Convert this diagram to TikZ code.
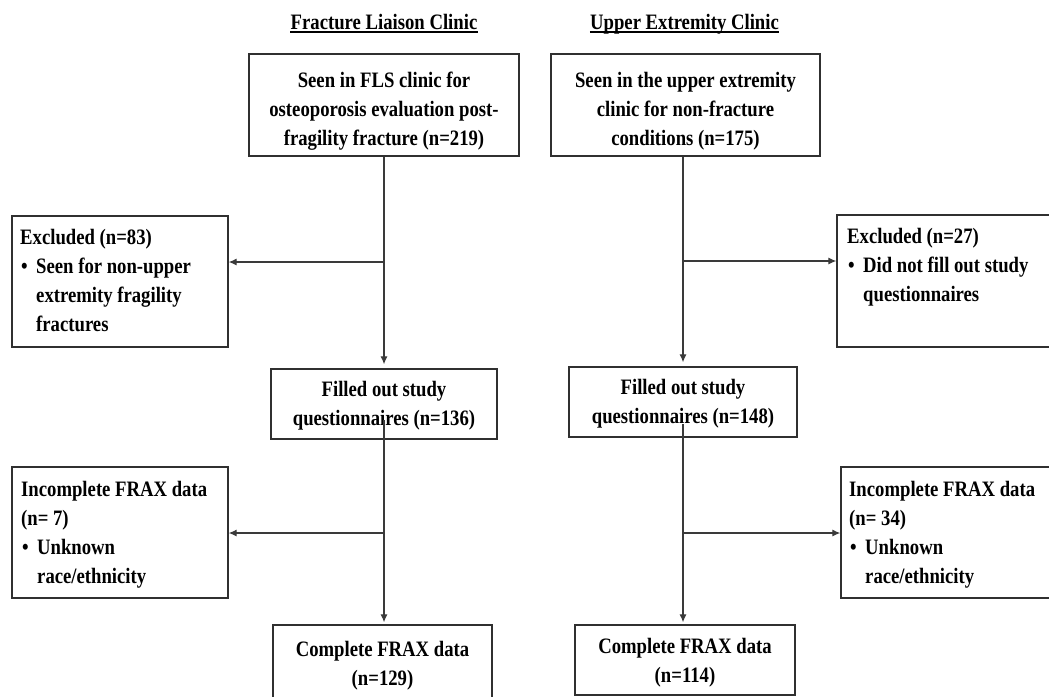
\documentclass[tikz,border=0pt]{standalone}
\usepackage{fontspec}
\setmainfont{Liberation Serif}[FakeStretch=0.85]
\usetikzlibrary{arrows.meta}
\definecolor{linegray}{HTML}{3A3A3A}
\definecolor{boxgray}{HTML}{303030}
\tikzset{
  boxnode/.style={draw=boxgray, line width=1.3pt, inner sep=0pt, rectangle},
  txt/.style={inner sep=0pt, font=\bfseries\fontsize{22}{29}\selectfont, text=black},
  ctxt/.style={txt, align=center, anchor=north},
  ltxt/.style={txt, align=left, anchor=north west},
  conn/.style={draw=linegray, line width=1.2pt},
  arr/.style={conn, -{Latex[length=8pt,width=7pt]}},
  ttl/.style={txt, anchor=base}
}
\newcommand{\bul}{\makebox[16pt][l]{\hspace{1pt}•}}
\newcommand{\ind}{\hspace*{16pt}}
\begin{document}
\begin{tikzpicture}[x=1pt,y=-1pt]
\useasboundingbox (0,0) rectangle (1049,696);
% titles
\node[ttl] (t1) at (384,29) {Fracture Liaison Clinic};
\node[ttl] (t2) at (684.5,29) {Upper Extremity Clinic};
\draw[line width=1.2pt] ([yshift=-3pt]t1.base west) -- ([yshift=-3pt]t1.base east);
\draw[line width=1.2pt] ([yshift=-3pt]t2.base west) -- ([yshift=-3pt]t2.base east);
% boxes
\node[boxnode, minimum width=270pt, minimum height=102pt] (fls) at (384,105) {};
\node[boxnode, minimum width=269pt, minimum height=102pt] (ue) at (685.5,105) {};
\node[boxnode, minimum width=216pt, minimum height=131pt] (exl) at (120,281.5) {};
\node[boxnode, minimum width=215pt, minimum height=132pt] (exr) at (944.5,281) {};
\node[boxnode, minimum width=226pt, minimum height=70pt] (fil) at (384,404) {};
\node[boxnode, minimum width=228pt, minimum height=70pt] (fir) at (683,402) {};
\node[boxnode, minimum width=216pt, minimum height=131pt] (inl) at (120,532.5) {};
\node[boxnode, minimum width=211pt, minimum height=131pt] (inr) at (946.5,532.5) {};
\node[boxnode, minimum width=219pt, minimum height=75pt] (col) at (382.5,662.5) {};
\node[boxnode, minimum width=220pt, minimum height=70pt] (cor) at (685,660) {};
% texts
\node[ctxt] (flst) at (384,72) {Seen in FLS clinic for\\osteoporosis evaluation post-\\fragility fracture (n=219)};
\node[ctxt] (uet) at (685.5,72) {Seen in the upper extremity\\clinic for non-fracture\\conditions (n=175)};
\node[ltxt] (exlt) at (20,229) {Excluded (n=83)\\\bul Seen for non-upper\\\ind extremity fragility\\\ind fractures};
\node[ltxt] (exrt) at (847,228) {Excluded (n=27)\\\bul Did not fill out study\\\ind questionnaires};
\node[ctxt] (filt) at (384,381) {Filled out study\\questionnaires (n=136)};
\node[ctxt] (firt) at (683,379) {Filled out study\\questionnaires (n=148)};
\node[ltxt] (inlt) at (21,481) {Incomplete FRAX data\\(n= 7)\\\bul Unknown\\\ind race/ethnicity};
\node[ltxt] (inrt) at (849,481) {Incomplete FRAX data\\(n= 34)\\\bul Unknown\\\ind race/ethnicity};
\node[ctxt] (colt) at (382.5,641) {Complete FRAX data\\(n=129)};
\node[ctxt] (cort) at (685,638) {Complete FRAX data\\(n=114)};
% connectors
\coordinate (b1) at (384,262);
\coordinate (b2) at (683,261);
\coordinate (s1) at (384,420);
\coordinate (s2) at (683,424);
\coordinate (b3) at (384,533);
\coordinate (b4) at (683,533);
\draw[arr, shorten >=4pt] (fls.south) -- (fil.north);
\draw[arr] (b1) -- (b1 -| exl.east);
\draw[arr, shorten >=4pt] (ue.south -| fir.north) -- (fir.north);
\draw[arr] (b2) -- (b2 -| exr.west);
\draw[arr, shorten >=2pt] (s1) -- (s1 |- col.north);
\draw[arr] (b3) -- (b3 -| inl.east);
\draw[arr, shorten >=2pt] (s2) -- (s2 |- cor.north);
\draw[arr] (b4) -- (b4 -| inr.west);
\end{tikzpicture}
\end{document}
